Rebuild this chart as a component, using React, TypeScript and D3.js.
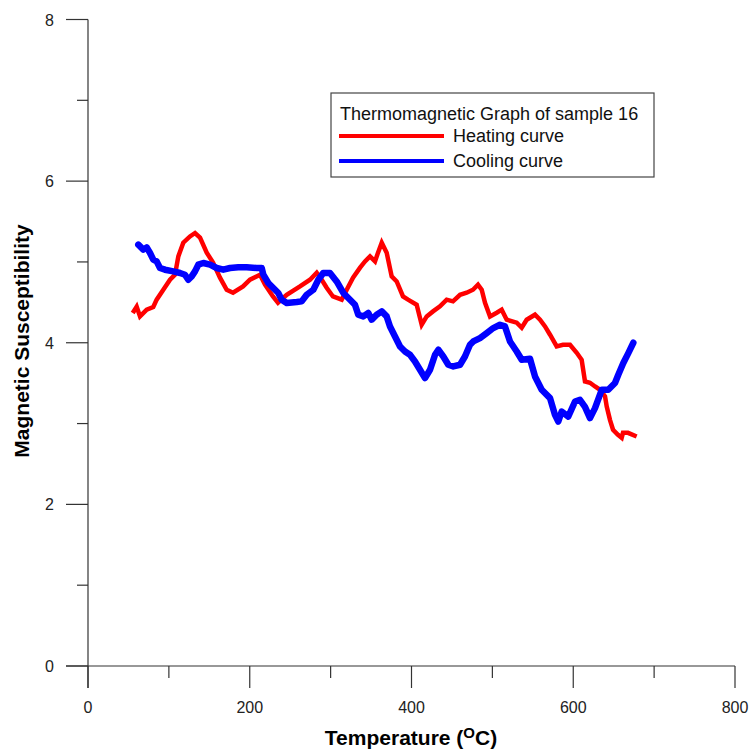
import React from "react";
import * as d3 from "d3";

const heatT = [55.3, 60.2, 64.3, 72.6, 80.7, 84.9, 93.1, 101.4, 107.6, 111.7, 117.8, 126.1, 132.3, 138.5, 146.8, 154.6, 163.2, 171.5, 179.3, 191.7, 200.3, 212.7, 218.9, 228.7, 234.9, 245.7, 262.1, 274.5, 282.8, 289.0, 295.1, 302.9, 313.7, 319.9, 327.7, 336.4, 342.5, 348.7, 354.9, 358.6, 363.2, 369.3, 375.5, 381.7, 389.5, 395.7, 406.4, 412.6, 418.8, 426.6, 435.2, 443.5, 451.3, 460.0, 468.2, 476.0, 482.2, 486.8, 490.9, 497.1, 505.4, 511.5, 517.7, 530.1, 536.3, 542.4, 552.7, 558.9, 565.1, 571.3, 579.5, 587.3, 596.0, 604.3, 610.4, 614.5, 620.7, 626.9, 633.1, 639.3, 641.4, 645.4, 649.2, 655.3, 659.9, 661.5, 667.7, 678.4];
const heatV = [4.368, 4.446, 4.326, 4.409, 4.442, 4.533, 4.656, 4.78, 4.842, 5.069, 5.238, 5.316, 5.358, 5.3, 5.115, 4.991, 4.805, 4.656, 4.619, 4.697, 4.78, 4.842, 4.718, 4.573, 4.495, 4.594, 4.697, 4.78, 4.867, 4.78, 4.681, 4.573, 4.533, 4.656, 4.805, 4.929, 5.007, 5.069, 5.007, 5.115, 5.238, 5.115, 4.821, 4.759, 4.573, 4.533, 4.471, 4.223, 4.326, 4.388, 4.45, 4.533, 4.512, 4.594, 4.619, 4.656, 4.718, 4.656, 4.495, 4.326, 4.372, 4.409, 4.285, 4.248, 4.186, 4.285, 4.347, 4.285, 4.202, 4.099, 3.954, 3.975, 3.975, 3.876, 3.789, 3.521, 3.505, 3.459, 3.418, 3.335, 3.211, 3.046, 2.923, 2.861, 2.824, 2.885, 2.885, 2.84];

const coolT = [62.2, 68.4, 72.6, 76.7, 80.7, 84.9, 89.0, 95.2, 105.5, 113.8, 119.9, 124.0, 128.2, 132.3, 136.4, 142.6, 150.9, 159.1, 167.3, 175.6, 185.8, 196.2, 208.6, 214.8, 216.8, 222.9, 229.1, 235.3, 239.5, 245.7, 258.1, 264.2, 270.4, 278.6, 284.8, 290.9, 299.2, 307.5, 315.7, 324.0, 330.1, 334.2, 340.4, 346.6, 350.8, 356.9, 363.2, 369.3, 373.4, 379.6, 385.8, 392.0, 398.1, 404.3, 410.5, 416.7, 422.9, 429.1, 433.2, 439.3, 445.5, 451.7, 460.0, 466.1, 472.3, 476.4, 484.7, 493.0, 501.1, 509.4, 515.6, 521.8, 530.1, 536.3, 546.5, 552.7, 561.0, 571.3, 577.4, 581.5, 585.7, 593.9, 602.2, 608.3, 614.5, 620.7, 626.9, 635.2, 643.3, 651.6, 655.7, 661.9, 668.1, 674.3];
const coolV = [5.214, 5.152, 5.18, 5.111, 5.028, 5.007, 4.925, 4.904, 4.883, 4.863, 4.842, 4.78, 4.821, 4.883, 4.966, 4.987, 4.966, 4.925, 4.904, 4.925, 4.933, 4.933, 4.925, 4.925, 4.842, 4.739, 4.677, 4.616, 4.533, 4.492, 4.504, 4.512, 4.594, 4.656, 4.78, 4.863, 4.863, 4.759, 4.616, 4.533, 4.471, 4.347, 4.326, 4.368, 4.285, 4.347, 4.388, 4.326, 4.202, 4.078, 3.954, 3.892, 3.851, 3.768, 3.666, 3.563, 3.666, 3.851, 3.913, 3.83, 3.728, 3.707, 3.728, 3.83, 3.975, 4.016, 4.058, 4.12, 4.182, 4.223, 4.202, 4.016, 3.892, 3.789, 3.802, 3.583, 3.418, 3.315, 3.108, 3.025, 3.149, 3.087, 3.273, 3.294, 3.207, 3.067, 3.191, 3.418, 3.418, 3.501, 3.604, 3.749, 3.872, 4.0];

const xMajor = [0, 200, 400, 600, 800];
const xMinor = [100, 300, 500, 700];
const yMajor = [0, 2, 4, 6, 8];
const yMinor = [1, 3, 5, 7];

const legendTitle = "Thermomagnetic Graph of sample 16";
const seriesNames = ["Heating curve", "Cooling curve"];

export default function App() {
  const x = d3.scaleLinear().domain([0, 800]).range([88, 735]);
  const y = d3.scaleLinear().domain([0, 8]).range([666, 19.5]);
  const line = d3
    .line<[number, number]>()
    .x((d) => x(d[0]))
    .y((d) => y(d[1]));
  const heat: [number, number][] = heatT.map((t, i) => [t, heatV[i]]);
  const cool: [number, number][] = coolT.map((t, i) => [t, coolV[i]]);
  const axisColor = "#333";
  const font = "Arial, 'Liberation Sans', sans-serif";

  return (
    <svg
      width={751}
      height={752}
      style={{ position: "absolute", left: 0, top: 0, background: "#fff" }}
      fontFamily={font}
    >
      <rect x={0} y={0} width={751} height={752} fill="#fff" />
      {/* axes */}
      <line x1={x(0)} x2={x(0)} y1={y(8)} y2={y(0) + 22} stroke={axisColor} strokeWidth={1.2} />
      <line x1={x(0) - 22} x2={x(800)} y1={y(0)} y2={y(0)} stroke={axisColor} strokeWidth={1.2} />
      {xMajor.map((v) => (
        <g key={"xm" + v}>
          <line x1={x(v)} x2={x(v)} y1={y(0)} y2={y(0) + 22} stroke={axisColor} strokeWidth={1.2} />
          <text x={x(v)} y={713} textAnchor="middle" fontSize={16} fill="#222">
            {v}
          </text>
        </g>
      ))}
      {xMinor.map((v) => (
        <line key={"xn" + v} x1={x(v)} x2={x(v)} y1={y(0)} y2={y(0) + 12} stroke={axisColor} strokeWidth={1.2} />
      ))}
      {yMajor.map((v) => (
        <g key={"ym" + v}>
          <line x1={x(0) - 22} x2={x(0)} y1={y(v)} y2={y(v)} stroke={axisColor} strokeWidth={1.2} />
          <text x={54} y={y(v) + 6} textAnchor="end" fontSize={16} fill="#222">
            {v}
          </text>
        </g>
      ))}
      {yMinor.map((v) => (
        <line key={"yn" + v} x1={x(0) - 11} x2={x(0)} y1={y(v)} y2={y(v)} stroke={axisColor} strokeWidth={1.2} />
      ))}
      {/* axis titles */}
      <text x={411} y={745} textAnchor="middle" fontSize={21} fontWeight="bold" fill="#000">
        Temperature (<tspan fontSize={15} dy={-7}>O</tspan>
        <tspan dy={7}>C)</tspan>
      </text>
      <text
        transform="translate(29,341) rotate(-90)"
        textAnchor="middle"
        fontSize={21}
        fontWeight="bold"
        fill="#000"
      >
        Magnetic Susceptibility
      </text>
      {/* curves */}
      <path d={line(heat) || ""} fill="none" stroke="#ff0000" strokeWidth={4.5} strokeLinejoin="miter" />
      <path d={line(cool) || ""} fill="none" stroke="#0000ff" strokeWidth={6.5} strokeLinejoin="round" strokeLinecap="round" />
      {/* legend */}
      <rect x={331} y={93} width={323} height={84} fill="#fff" stroke="#444" strokeWidth={1.2} />
      <text x={340} y={120} fontSize={18} fill="#111">
        {legendTitle}
      </text>
      <line x1={339} x2={444} y1={136} y2={136} stroke="#ff0000" strokeWidth={4} />
      <text x={453} y={142} fontSize={18} fill="#111">
        {seriesNames[0]}
      </text>
      <line x1={339} x2={444} y1={161} y2={161} stroke="#0000ff" strokeWidth={4} />
      <text x={453} y={167} fontSize={18} fill="#111">
        {seriesNames[1]}
      </text>
    </svg>
  );
}
